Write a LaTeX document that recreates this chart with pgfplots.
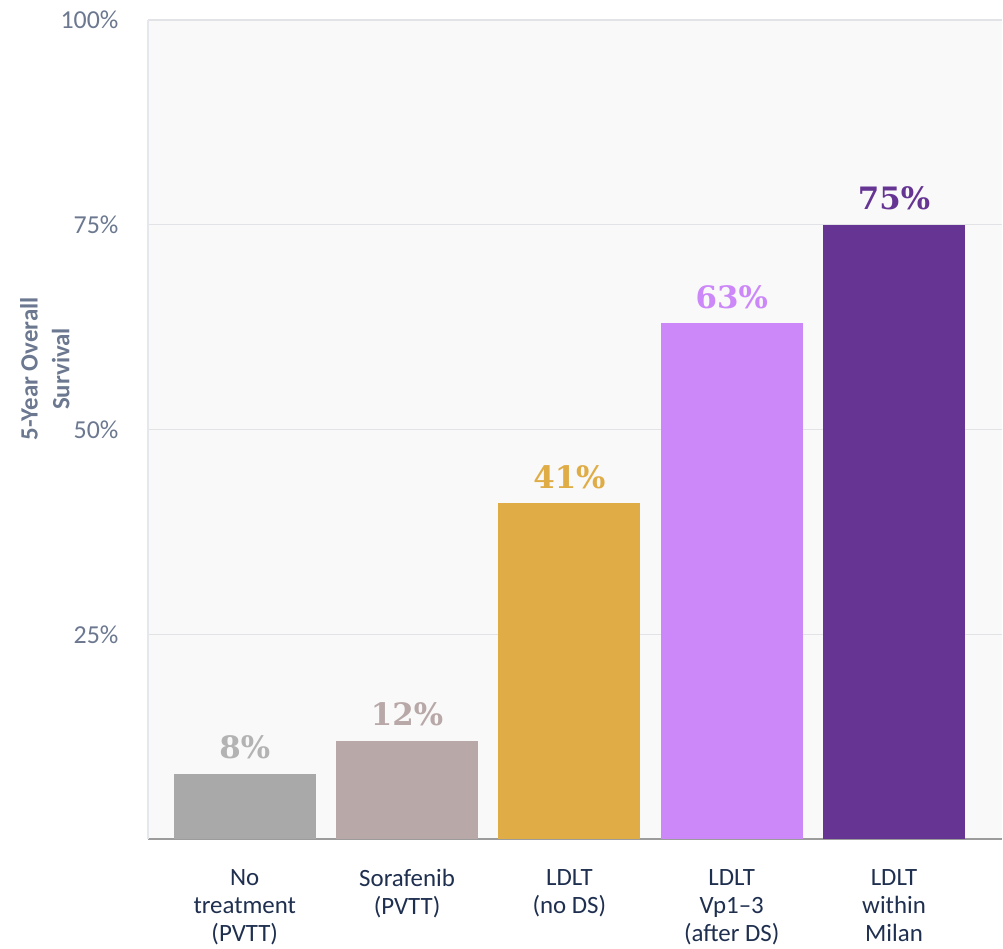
\documentclass[border=0pt]{standalone}
\usepackage{pgfplots}
\pgfplotsset{compat=1.18}
\usepackage{fontspec}
\setmainfont{Carlito}
\newfontfamily\valfamily{DejaVu Serif}
\definecolor{bgcol}{HTML}{F9F9F9}
\definecolor{gridcol}{HTML}{E2E3E6}
\definecolor{leftcol}{HTML}{E4E7EB}
\definecolor{botcol}{HTML}{9C9C9C}
\definecolor{tickcol}{HTML}{6B7890}
\definecolor{catcol}{HTML}{1F2F4F}
\definecolor{cA}{HTML}{A9A9A9}
\definecolor{cAl}{HTML}{B3B3B3}
\definecolor{cB}{HTML}{B8A8A8}
\definecolor{cC}{HTML}{DFAC45}
\definecolor{cD}{HTML}{CC88F8}
\definecolor{cE}{HTML}{663594}
\begin{document}
\begin{tikzpicture}
\begin{axis}[
  name=ax,
  scale only axis,
  width=855bp, height=820bp,
  xmin=-0.597, xmax=4.665,
  ymin=0, ymax=100,
  ybar, bar width=142bp, bar shift=0pt,
  axis x line=bottom, axis y line=left,
  x axis line style={-, draw=botcol, line width=2bp},
  y axis line style={-, draw=leftcol, line width=1.5bp},
  axis background/.style={fill=bgcol},
  ymajorgrids, grid style={draw=gridcol, line width=1.2bp},
  major tick length=0pt,
  ytick={25,50,75,100},
  yticklabels={25\%,50\%,75\%,100\%},
  yticklabel style={font=\fontsize{26}{30}\selectfont, text=tickcol, xshift=-26bp},
  xtick={0,1,2,3,4},
  xticklabels={{No\\treatment\\(PVTT)},{Sorafenib\\(PVTT)},{LDLT\\(no DS)},{LDLT\\Vp1\textendash3\\(after DS)},{LDLT\\within\\Milan}},
  xticklabel style={font=\fontsize{25}{28}\selectfont, text=catcol, align=center, anchor=north, yshift=-27bp},
  ylabel={5-Year Overall\\Survival},
  ylabel style={at={(axis description cs:-0.1205,0.574)}, anchor=center, align=center, font=\bfseries\fontsize{25}{32}\selectfont, text=tickcol},
  point meta=explicit symbolic,
  nodes near coords,
  every node near coord/.append style={font=\valfamily\bfseries\fontsize{31}{33}\selectfont, yshift=11bp},
  clip=false,
]
\addplot[fill=cA, draw=none, nodes near coords style={text=cAl}] coordinates {(0,8) [8\%]};
\addplot[fill=cB, draw=none, nodes near coords style={text=cB}] coordinates {(1,12) [12\%]};
\addplot[fill=cC, draw=none, nodes near coords style={text=cC}] coordinates {(2,41) [41\%]};
\addplot[fill=cD, draw=none, nodes near coords style={text=cD}] coordinates {(3,63) [63\%]};
\addplot[fill=cE, draw=none, nodes near coords style={text=cE}] coordinates {(4,75) [75\%]};
\end{axis}
\path ([xshift=-148bp,yshift=-106bp]ax.south west) rectangle ([yshift=20bp]ax.north east);
\end{tikzpicture}
\end{document}
